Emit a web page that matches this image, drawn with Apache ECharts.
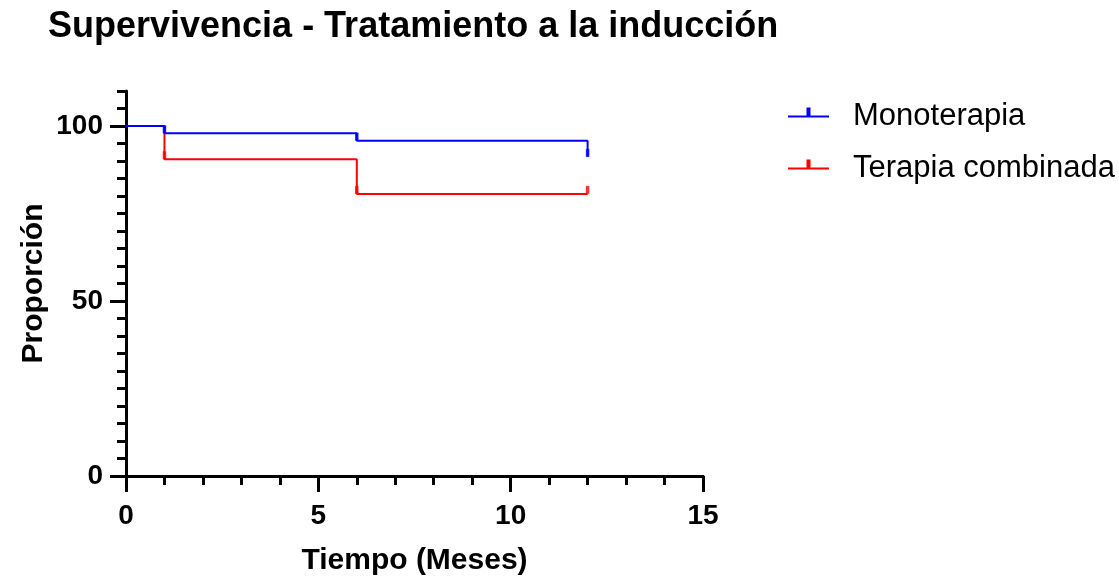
<!DOCTYPE html>
<html>
<head>
<meta charset="utf-8">
<script src="https://cdn.jsdelivr.net/npm/echarts@6/dist/echarts.min.js"></script>
<style>html,body{margin:0;padding:0;background:#fff}#c{width:1119px;height:577px}</style>
</head>
<body>
<div id="c"></div>
<script>
// Data
const seriesNames = ['Monoterapia', 'Terapia combinada'];
const monoTimes = [0, 1, 6, 12];
const monoValues = [100, 97.9, 95.8, 91.2];
const comboTimes = [0, 1, 6, 12];
const comboValues = [100, 90.5, 80.6, 80.6];
const monoCensorTimes = [1, 6, 12];
const monoCensorValues = [97.9, 95.8, 91.2];
const comboCensorTimes = [1, 6, 12];
const comboCensorValues = [90.5, 80.6, 80.6];
const colors = ['#0000FF', '#FF0000'];

const zip = (a, b) => a.map((v, i) => [v, b[i]]);
const FONT = 'Liberation Sans, Arial, Helvetica, sans-serif';
const legendIcon = 'path://M0,8 L41,8 L41,10 L0,10 Z M18.5,0 L22.5,0 L22.5,8 L18.5,8 Z M20,17.99 L20.01,17.99 L20.01,18 L20,18 Z';

const chart = echarts.init(document.getElementById('c'), null, {renderer: 'canvas'});
chart.setOption({
  animation: false,
  backgroundColor: '#fff',
  title: {
    text: 'Supervivencia - Tratamiento a la inducción',
    left: 43, top: 4,
    textStyle: {fontFamily: FONT, fontSize: 36, fontWeight: 'bold', color: '#000'}
  },
  legend: {
    orient: 'vertical',
    left: 783, top: 96,
    itemWidth: 41, itemHeight: 18, itemGap: 21,
    icon: legendIcon,
    data: seriesNames,
    textStyle: {fontFamily: FONT, fontSize: 31, color: '#000', padding: [0, 0, 0, 19]}
  },
  grid: [
    // main plotting grid: y 0..110
    {left: 126, right: 416, top: 91, bottom: 101, containLabel: false, outerBoundsMode: 'none'},
    // overlay grid for the long major ticks: y 0..100 maps to the same pixels
    {left: 126, right: 416, top: 126, bottom: 101, containLabel: false, outerBoundsMode: 'none'}
  ],
  xAxis: [{
    gridIndex: 0, type: 'value', min: 0, max: 15, interval: 1,
    axisLine: {lineStyle: {color: '#000', width: 3}},
    axisTick: {length: 9, lineStyle: {color: '#000', width: 3}},
    axisLabel: {show: false},
    splitLine: {show: false}
  }, {
    gridIndex: 1, type: 'value', min: 0, max: 15, interval: 5,
    axisLine: {show: true, lineStyle: {color: '#000', width: 3}},
    axisTick: {show: true, length: 16, lineStyle: {color: '#000', width: 3}},
    axisLabel: {margin: 26, fontFamily: FONT, fontSize: 28, fontWeight: 'bold', color: '#000'},
    splitLine: {show: false},
    name: 'Tiempo (Meses)', nameLocation: 'middle', nameGap: 70,
    nameTextStyle: {fontFamily: FONT, fontSize: 30, fontWeight: 'bold', color: '#000'}
  }],
  yAxis: [{
    gridIndex: 0, type: 'value', min: 0, max: 110, interval: 5,
    axisLine: {show: true, lineStyle: {color: '#000', width: 3}},
    axisTick: {show: true, length: 9, lineStyle: {color: '#000', width: 3}},
    axisLabel: {show: false},
    splitLine: {show: false},
    name: 'Proporción', nameLocation: 'middle', nameGap: 77, nameRotate: 90,
    nameTextStyle: {fontFamily: FONT, fontSize: 30, fontWeight: 'bold', color: '#000'}
  }, {
    gridIndex: 1, type: 'value', min: 0, max: 100, interval: 50,
    axisLine: {show: false},
    axisTick: {show: true, length: 16, lineStyle: {color: '#000', width: 3}},
    axisLabel: {margin: 23, fontFamily: FONT, fontSize: 28, fontWeight: 'bold', color: '#000'},
    splitLine: {show: false}
  }],
  series: [{
    name: seriesNames[0], type: 'line', step: 'end', xAxisIndex: 0, yAxisIndex: 0,
    data: zip(monoTimes, monoValues), showSymbol: false, symbol: 'none',
    lineStyle: {color: colors[0], width: 2}, itemStyle: {color: colors[0]}, z: 3
  }, {
    name: seriesNames[1], type: 'line', step: 'end', xAxisIndex: 0, yAxisIndex: 0,
    data: zip(comboTimes, comboValues), showSymbol: false, symbol: 'none',
    lineStyle: {color: colors[1], width: 2}, itemStyle: {color: colors[1]}, z: 2
  }, {
    name: seriesNames[0] + ' censor', type: 'scatter', xAxisIndex: 0, yAxisIndex: 0,
    data: zip(monoCensorTimes, monoCensorValues), symbol: 'rect', symbolSize: [3.5, 8], symbolOffset: [0, -4],
    itemStyle: {color: colors[0]}, z: 4
  }, {
    name: seriesNames[1] + ' censor', type: 'scatter', xAxisIndex: 0, yAxisIndex: 0,
    data: zip(comboCensorTimes, comboCensorValues), symbol: 'rect', symbolSize: [3.5, 8], symbolOffset: [0, -4],
    itemStyle: {color: colors[1]}, z: 4
  }]
});
</script>
</body>
</html>
